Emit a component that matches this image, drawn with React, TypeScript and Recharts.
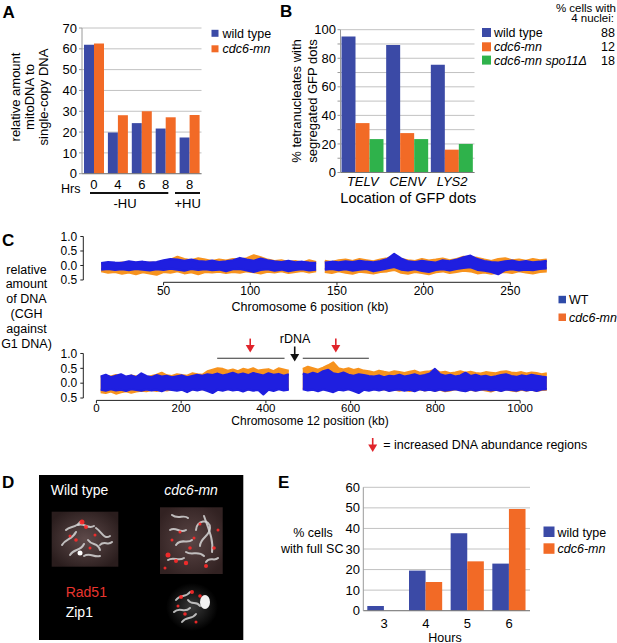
import React from 'react';
import {
  BarChart, Bar, XAxis, YAxis, CartesianGrid, ComposedChart, Area,
  ReferenceLine, ReferenceDot,
} from 'recharts';

const FONT = '"Liberation Sans", Arial, Helvetica, sans-serif';
const BAR_BLUE = '#3b4aa6';
const BAR_ORANGE = '#f26a26';
const BAR_GREEN = '#2fb24b';
const DOT_BLUE = '#1f1fe0';
const DOT_ORANGE = '#f7931e';
const RED = '#e0242b';

// ---------- Panel A ----------
const hrsLabels = ['0', '4', '6', '8', '8'];
const mitoWT = [61.9, 19.8, 24.3, 21.7, 17.4];
const mitoMN = [62.6, 28.1, 30.0, 27.1, 28.2];
const mitoTicks = [0, 10, 20, 30, 40, 50, 60, 70];

// ---------- Panel B ----------
const gfpLoci = ['TELV', 'CENV', 'LYS2'];
const gfpWT = [95.3, 89.3, 75.5];
const gfpMN = [34.6, 27.6, 16.0];
const gfpSpo = [23.4, 23.4, 20.0];
const gfpTicks = [0, 10, 20, 30, 40, 50, 60, 70, 80, 90, 100];
const bSeries = ['wild type', 'cdc6-mn', 'cdc6-mn spo11\u0394'];
const nucleiPct = ['88', '12', '18'];

// ---------- Panel C : chromosome 6 ----------
const chr6Pos = [14, 18, 22, 26, 30, 34, 38, 42, 46, 50, 54, 58, 62, 66, 70, 74, 78, 82, 86, 90, 94, 98, 102, 106, 110, 114, 118, 122, 126, 130, 134, 138,
  140.5,
  143, 147, 151, 155, 159, 163, 167, 171, 175, 179, 183, 187, 191, 195, 199, 203, 207, 211, 215, 219, 223, 227, 231, 235, 239, 243, 247, 251, 255, 259, 263, 267, 271];
const chr6WtLo = [-0.14, -0.12, -0.15, -0.13, -0.16, -0.12, -0.14, -0.17, -0.13, -0.15, -0.11, -0.14, -0.18, -0.12, -0.15, -0.13, -0.16, -0.14, -0.2, -0.13, -0.12, -0.17, -0.22, -0.15, -0.13, -0.18, -0.14, -0.2, -0.15, -0.13, -0.17, -0.14,
  null,
  -0.14, -0.12, -0.16, -0.13, -0.18, -0.14, -0.12, -0.2, -0.15, -0.1, -0.05, -0.14, -0.17, -0.13, -0.19, -0.22, -0.15, -0.13, -0.17, -0.12, -0.08, -0.06, -0.15, -0.18, -0.22, -0.3, -0.16, -0.13, -0.17, -0.14, -0.16, -0.12, -0.1];
const chr6WtHi = [0.08, 0.12, 0.1, 0.09, 0.14, 0.11, 0.13, 0.1, 0.12, 0.18, 0.22, 0.2, 0.16, 0.2, 0.15, 0.13, 0.17, 0.12, 0.14, 0.18, 0.26, 0.2, 0.16, 0.24, 0.18, 0.14, 0.12, 0.16, 0.11, 0.13, 0.1, 0.09,
  null,
  0.1, 0.13, 0.11, 0.14, 0.12, 0.16, 0.13, 0.11, 0.15, 0.22, 0.4, 0.24, 0.14, 0.12, 0.16, 0.13, 0.1, 0.18, 0.14, 0.2, 0.28, 0.34, 0.22, 0.15, 0.12, 0.1, 0.14, 0.17, 0.12, 0.15, 0.11, 0.13, 0.16];
const chr6MnLo = [-0.2, -0.25, -0.22, -0.28, -0.24, -0.3, -0.23, -0.27, -0.32, -0.22, -0.25, -0.2, -0.27, -0.23, -0.3, -0.22, -0.24, -0.21, -0.26, -0.22, -0.25, -0.2, -0.23, -0.27, -0.21, -0.24, -0.2, -0.26, -0.22, -0.19, -0.24, -0.2,
  null,
  -0.22, -0.26, -0.2, -0.25, -0.28, -0.21, -0.24, -0.27, -0.22, -0.2, -0.15, -0.25, -0.28, -0.22, -0.26, -0.3, -0.23, -0.2, -0.26, -0.22, -0.18, -0.2, -0.27, -0.24, -0.28, -0.25, -0.22, -0.26, -0.2, -0.24, -0.27, -0.22, -0.2];
const chr6MnHi = [0.05, 0.08, 0.06, 0.1, 0.07, 0.09, 0.06, 0.1, 0.08, 0.15, 0.2, 0.3, 0.22, 0.18, 0.25, 0.2, 0.15, 0.2, 0.17, 0.22, 0.2, 0.25, 0.35, 0.28, 0.2, 0.15, 0.18, 0.12, 0.15, 0.1, 0.18, 0.12,
  null,
  0.16, 0.12, 0.18, 0.2, 0.15, 0.22, 0.18, 0.14, 0.2, 0.25, 0.32, 0.22, 0.18, 0.15, 0.22, 0.17, 0.2, 0.24, 0.18, 0.22, 0.3, 0.28, 0.26, 0.2, 0.15, 0.22, 0.25, 0.18, 0.2, 0.16, 0.22, 0.18, 0.2];
const chr6Ticks = [50, 100, 150, 200, 250];

// ---------- Panel C : chromosome 12 ----------
const chr12Pos = [10, 22, 34, 46, 58, 70, 82, 94, 106, 118, 130, 142, 154, 166, 178, 190, 202, 214, 226, 238, 250, 262, 274, 286, 298, 310, 322, 334, 346, 358, 370, 382, 394, 406, 418, 430, 442, 454,
  470,
  487, 499, 511, 523, 535, 547, 559, 571, 583, 595, 607, 619, 631, 643, 655, 667, 679, 691, 703, 715, 727, 739, 751, 763, 775, 787, 799, 811, 823, 835, 847, 859, 871, 883, 895, 907, 919, 931, 943, 955, 967, 979, 991, 1003, 1015, 1027, 1039, 1051, 1063];
const chr12WtLo = [-0.22, -0.25, -0.2, -0.24, -0.22, -0.26, -0.2, -0.23, -0.25, -0.21, -0.24, -0.22, -0.27, -0.2, -0.23, -0.25, -0.22, -0.3, -0.21, -0.24, -0.2, -0.26, -0.33, -0.22, -0.25, -0.2, -0.24, -0.22, -0.28, -0.21, -0.25, -0.23, -0.38, -0.22, -0.26, -0.2, -0.24, -0.22,
  null,
  -0.2, -0.24, -0.22, -0.27, -0.21, -0.25, -0.3, -0.22, -0.24, -0.2, -0.26, -0.33, -0.22, -0.25, -0.21, -0.24, -0.2, -0.26, -0.23, -0.21, -0.25, -0.22, -0.27, -0.2, -0.24, -0.22, -0.26, -0.21, -0.25, -0.23, -0.2, -0.24, -0.27, -0.21, -0.25, -0.22, -0.2, -0.24, -0.22, -0.26, -0.21, -0.23, -0.25, -0.2, -0.24, -0.22, -0.26, -0.21, -0.2];
const chr12WtHi = [0.22, 0.28, 0.2, 0.25, 0.3, 0.22, 0.26, 0.2, 0.33, 0.24, 0.2, 0.27, 0.22, 0.25, 0.2, 0.23, 0.26, 0.2, 0.24, 0.28, 0.25, 0.3, 0.27, 0.32, 0.26, 0.3, 0.35, 0.28, 0.32, 0.27, 0.34, 0.3, 0.26, 0.33, 0.28, 0.31, 0.25, 0.3,
  null,
  0.32, 0.28, 0.35, 0.3, 0.4, 0.45, 0.33, 0.3, 0.36, 0.28, 0.25, 0.3, 0.27, 0.24, 0.22, 0.26, 0.2, 0.25, 0.23, 0.28, 0.22, 0.26, 0.3, 0.24, 0.27, 0.32, 0.48, 0.3, 0.25, 0.28, 0.22, 0.26, 0.35, 0.24, 0.28, 0.22, 0.25, 0.2, 0.23, 0.27, 0.3, 0.24, 0.21, 0.26, 0.23, 0.28, 0.25, 0.22, 0.2];
const chr12MnLo = [-0.3, -0.33, -0.28, -0.35, -0.3, -0.27, -0.32, -0.28, -0.25, -0.27, -0.23, -0.26, -0.22, -0.24, -0.2, -0.23, -0.21, -0.25, -0.2, -0.22, -0.19, -0.23, -0.2, -0.18, -0.22, -0.2, -0.17, -0.21, -0.19, -0.22, -0.18, -0.2, -0.24, -0.19, -0.21, -0.18, -0.2, -0.19,
  null,
  -0.18, -0.2, -0.17, -0.22, -0.19, -0.2, -0.24, -0.18, -0.21, -0.19, -0.22, -0.25, -0.2, -0.23, -0.19, -0.22, -0.2, -0.24, -0.21, -0.25, -0.22, -0.26, -0.23, -0.2, -0.24, -0.21, -0.25, -0.22, -0.27, -0.24, -0.2, -0.23, -0.26, -0.22, -0.25, -0.21, -0.24, -0.28, -0.22, -0.25, -0.2, -0.24, -0.27, -0.22, -0.25, -0.21, -0.26, -0.23, -0.22];
const chr12MnHi = [0.2, 0.25, 0.22, 0.27, 0.23, 0.2, 0.26, 0.22, 0.25, 0.2, 0.24, 0.28, 0.35, 0.26, 0.24, 0.3, 0.27, 0.25, 0.33, 0.3, 0.28, 0.4, 0.45, 0.5, 0.48, 0.42, 0.46, 0.4, 0.48, 0.44, 0.5, 0.42, 0.45, 0.47, 0.4, 0.5, 0.46, 0.42,
  null,
  0.48, 0.55, 0.5, 0.45, 0.52, 0.6, 0.7, 0.5, 0.46, 0.5, 0.44, 0.48, 0.42, 0.4, 0.36, 0.42, 0.38, 0.35, 0.4, 0.37, 0.34, 0.38, 0.42, 0.35, 0.38, 0.4, 0.45, 0.36, 0.38, 0.33, 0.36, 0.4, 0.35, 0.38, 0.34, 0.32, 0.37, 0.35, 0.33, 0.38, 0.4, 0.36, 0.34, 0.37, 0.32, 0.36, 0.34, 0.3, 0.33];
const chr12Ticks = [0, 200, 400, 600, 800, 1000];
const cghYTicks = [-0.5, 0, 0.5, 1];
const rdnaKb = 468;
const increasedKb = [363, 565];
const increasedSpans = [[285, 444], [487, 643]];

// ---------- Panel E ----------
const scHours = ['3', '4', '5', '6'];
const scWT = [2.3, 19.5, 37.6, 22.9];
const scMN = [0, 14.0, 24.0, 49.5];
const scTicks = [0, 10, 20, 30, 40, 50, 60];

const tickStyle = { fontSize: 13, fill: '#000' };

function ChartA() {
  const data = hrsLabels.map((h, i) => ({ idx: i, wt: mitoWT[i], mn: mitoMN[i] }));
  return (
    <BarChart width={210} height={215} data={data} margin={{ top: 28, right: 8.5, bottom: 21.3, left: 0 }} barGap={0}>
      <CartesianGrid vertical={false} stroke="#c2c2c2" />
      <XAxis dataKey="idx" type="category" tickFormatter={(v) => hrsLabels[v]} axisLine={{ stroke: '#7a7a7a' }}
        tickLine={false} tickSize={0} tickMargin={6.5} height={20} interval={0} tick={tickStyle} />
      <YAxis width={82} domain={[0, 70]} ticks={mitoTicks} interval={0} axisLine={{ stroke: '#9a9a9a' }}
        tickLine={{ stroke: '#9a9a9a' }} tickSize={3} tickMargin={2} tick={tickStyle} />
      <Bar dataKey="wt" fill={BAR_BLUE} barSize={10} isAnimationActive={false} />
      <Bar dataKey="mn" fill={BAR_ORANGE} barSize={10} isAnimationActive={false} />
    </BarChart>
  );
}

function ChartB() {
  const data = gfpLoci.map((l, i) => ({ locus: l, wt: gfpWT[i], mn: gfpMN[i], spo: gfpSpo[i] }));
  return (
    <BarChart width={230} height={215} data={data} margin={{ top: 29.7, right: 5.5, bottom: 22.5, left: 0 }} barGap={0}>
      <CartesianGrid vertical={false} stroke="#c2c2c2" />
      <XAxis dataKey="locus" axisLine={{ stroke: '#7a7a7a' }} tickLine={false} tickSize={0} tickMargin={4}
        height={20} interval={0} tick={{ fontSize: 13, fill: '#000', fontStyle: 'italic' }} />
      <YAxis width={90.5} domain={[0, 100]} ticks={gfpTicks} interval={0}
        tickFormatter={(v) => (v % 20 === 0 ? String(v) : '')} axisLine={{ stroke: '#9a9a9a' }}
        tickLine={{ stroke: '#9a9a9a' }} tickSize={3} tickMargin={1.5} tick={tickStyle} />
      <Bar dataKey="wt" fill={BAR_BLUE} barSize={14} isAnimationActive={false} />
      <Bar dataKey="mn" fill={BAR_ORANGE} barSize={14} isAnimationActive={false} />
      <Bar dataKey="spo" fill={BAR_GREEN} barSize={14} isAnimationActive={false} />
    </BarChart>
  );
}

function ChartE() {
  const data = scHours.map((h, i) => ({ h, wt: scWT[i], mn: scMN[i] }));
  return (
    <BarChart width={240} height={175} data={data} margin={{ top: 17.3, right: 10, bottom: 14.3, left: 0 }} barGap={0}>
      <CartesianGrid vertical={false} stroke="#c2c2c2" />
      <XAxis dataKey="h" axisLine={{ stroke: '#7a7a7a' }} tickLine={false} tickSize={0} tickMargin={7.7}
        height={20} interval={0} tick={tickStyle} />
      <YAxis width={63.3} domain={[0, 60]} ticks={scTicks} interval={0} axisLine={{ stroke: '#9a9a9a' }}
        tickLine={false} tickSize={0} tickMargin={3.3} tick={tickStyle} />
      <Bar dataKey="wt" fill={BAR_BLUE} barSize={16.6} isAnimationActive={false} />
      <Bar dataKey="mn" fill={BAR_ORANGE} barSize={16.6} isAnimationActive={false} />
    </BarChart>
  );
}

const cghTick = { fontSize: 12, fill: '#000' };
const cghTick12 = { fontSize: 11.5, fill: '#000' };
const fmtCgh = (v: number) => Math.abs(v).toFixed(1);

function rangeRows(pos: number[], wLo: (number | null)[], wHi: (number | null)[], mLo: (number | null)[], mHi: (number | null)[]) {
  return pos.map((kb, i) => ({
    kb,
    wt: wLo[i] == null ? null : [wLo[i], wHi[i]],
    mn: mLo[i] == null ? null : [mLo[i], mHi[i]],
  }));
}

function ChartChr6() {
  const data = rangeRows(chr6Pos, chr6WtLo, chr6WtHi, chr6MnLo, chr6MnHi);
  const xMin = 3.7;
  return (
    <ComposedChart width={580} height={90} data={data} margin={{ top: 9.76, right: 15.4, bottom: 12.7, left: 0 }}>
      <XAxis type="number" dataKey="kb" domain={[xMin, 281.3]} allowDataOverflow ticks={chr6Ticks} interval={0}
        axisLine={false} tickLine={{ stroke: '#222' }} tickSize={3} tickMargin={1.5} height={20} tick={cghTick} />
      <YAxis type="number" domain={[-0.58, 1.06]} allowDataOverflow ticks={cghYTicks} interval={0}
        tickFormatter={fmtCgh} axisLine={false} tickLine={{ stroke: '#222' }} tickSize={3} tickMargin={3}
        width={83.3} tick={cghTick} />
      <Area dataKey="mn" type="linear" stroke={DOT_ORANGE} strokeWidth={2.2} strokeLinejoin="round" fill={DOT_ORANGE}
        fillOpacity={1} isAnimationActive={false} dot={false} activeDot={false} connectNulls={false} />
      <Area dataKey="wt" type="linear" stroke={DOT_BLUE} strokeWidth={2.2} strokeLinejoin="round" fill={DOT_BLUE}
        fillOpacity={1} isAnimationActive={false} dot={false} activeDot={false} connectNulls={false} />
      <ReferenceLine segment={[{ x: xMin, y: -0.5 }, { x: xMin, y: 1 }]} stroke="#222" ifOverflow="visible" />
      <ReferenceLine segment={[{ x: chr6Ticks[0], y: -0.58 }, { x: chr6Ticks[chr6Ticks.length - 1], y: -0.58 }]}
        stroke="#222" ifOverflow="visible" />
    </ComposedChart>
  );
}

const arrowShape = (color: string, len: number) => (props: any) => {
  const { cx, cy } = props;
  return (
    <g>
      <line x1={cx} y1={cy - len} x2={cx} y2={cy - 6} stroke={color} strokeWidth={1.6} />
      <polygon points={`${cx - 4.5},${cy - 7.5} ${cx + 4.5},${cy - 7.5} ${cx},${cy}`} fill={color} />
    </g>
  );
};

function ChartChr12() {
  const data = rangeRows(chr12Pos, chr12WtLo, chr12WtHi, chr12MnLo, chr12MnHi);
  const xMin = -31;
  return (
    <ComposedChart width={580} height={100} data={data} margin={{ top: 21.7, right: 15.4, bottom: 9.6, left: 0 }}>
      <XAxis type="number" dataKey="kb" domain={[xMin, 1105]} allowDataOverflow ticks={chr12Ticks} interval={0}
        axisLine={false} tickLine={{ stroke: '#222' }} tickSize={3} tickMargin={0} height={20} tick={cghTick12} />
      <YAxis type="number" domain={[-0.58, 1.06]} allowDataOverflow ticks={cghYTicks} interval={0}
        tickFormatter={fmtCgh} axisLine={false} tickLine={{ stroke: '#222' }} tickSize={3} tickMargin={3}
        width={83.3} tick={cghTick} />
      <Area dataKey="mn" type="linear" stroke={DOT_ORANGE} strokeWidth={2.2} strokeLinejoin="round" fill={DOT_ORANGE}
        fillOpacity={1} isAnimationActive={false} dot={false} activeDot={false} connectNulls={false} />
      <Area dataKey="wt" type="linear" stroke={DOT_BLUE} strokeWidth={2.2} strokeLinejoin="round" fill={DOT_BLUE}
        fillOpacity={1} isAnimationActive={false} dot={false} activeDot={false} connectNulls={false} />
      <ReferenceLine segment={[{ x: xMin, y: -0.5 }, { x: xMin, y: 1 }]} stroke="#222" ifOverflow="visible" />
      <ReferenceLine segment={[{ x: chr12Ticks[0], y: -0.58 }, { x: chr12Ticks[chr12Ticks.length - 1], y: -0.58 }]}
        stroke="#222" ifOverflow="visible" />
      {increasedSpans.map((s, i) => (
        <ReferenceLine key={`span${i}`} segment={[{ x: s[0], y: 0.84 }, { x: s[1], y: 0.84 }]} stroke="#333"
          strokeWidth={1.2} ifOverflow="visible" />
      ))}
      {increasedKb.map((kb, i) => (
        <ReferenceDot key={`inc${i}`} x={kb} y={1.03} ifOverflow="visible" shape={arrowShape(RED, 14)} />
      ))}
      <ReferenceDot x={rdnaKb} y={0.73} ifOverflow="visible" shape={arrowShape('#111', 15)} />
    </ComposedChart>
  );
}

function RotLabel({ cx, cy, fs, text }: { cx: number; cy: number; fs: number; text: string }) {
  return (
    <text transform={`translate(${cx + fs * 0.35},${cy}) rotate(-90)`} textAnchor="middle" fontSize={fs} fill="#000">
      {text}
    </text>
  );
}

function Micrographs() {
  const squig = { stroke: '#d6d6d6', strokeWidth: 2, fill: 'none', strokeLinecap: 'round' as const, opacity: 0.85 };
  return (
    <g>
      <defs>
        <radialGradient id="gL" cx="50%" cy="50%" r="60%">
          <stop offset="0%" stopColor="#5e4a4a" />
          <stop offset="100%" stopColor="#2a1d1d" />
        </radialGradient>
        <radialGradient id="gR" cx="50%" cy="50%" r="60%">
          <stop offset="0%" stopColor="#5a4545" />
          <stop offset="100%" stopColor="#322222" />
        </radialGradient>
        <radialGradient id="gB" cx="50%" cy="50%" r="50%">
          <stop offset="0%" stopColor="#3a3a3a" />
          <stop offset="100%" stopColor="#000" />
        </radialGradient>
      </defs>
      <rect x={39} y={475} width={204.3} height={165} fill="#000" />
      <rect x={51.7} y={511.7} width={66.6} height={55} fill="url(#gL)" />
      <path d="M62,545 C66,538 72,540 76,532" {...squig} />
      <path d="M70,555 C74,548 80,552 84,544" {...squig} />
      <path d="M78,525 C84,522 88,530 94,526" {...squig} />
      <path d="M88,540 C92,546 98,542 100,550" {...squig} />
      <path d="M96,528 C102,532 104,540 110,536" {...squig} />
      <path d="M66,530 C70,526 76,528 80,522" {...squig} />
      <path d="M84,556 C90,552 94,558 100,556" {...squig} />
      <path d="M100,545 C104,540 108,546 112,542" {...squig} />
      <circle cx={80} cy={553} r={2.5} fill="#fff" />
      {[[82, 522, 2.5], [86, 527, 2], [76, 540, 1.8], [90, 548, 1.5], [95, 535, 1.5], [70, 536, 1.5]].map((d, i) => (
        <circle key={`l${i}`} cx={d[0]} cy={d[1]} r={d[2]} fill="#ff2a2a" opacity={0.9} />
      ))}
      <rect x={160} y={507.3} width={62.7} height={66.7} fill="url(#gR)" />
      <path d="M196,530 C196,520 210,518 210,528 C210,536 200,538 200,546" {...squig} />
      <path d="M204,516 C208,528 214,540 212,552" {...squig} />
      <path d="M170,530 C176,526 180,534 186,530" {...squig} />
      <path d="M176,545 C180,538 188,544 192,540" {...squig} />
      <path d="M168,560 C174,556 178,562 184,558" {...squig} />
      <path d="M186,552 C192,556 198,550 204,556" {...squig} />
      <path d="M206,562 C210,556 214,562 218,558" {...squig} />
      <path d="M172,515 C178,520 184,514 188,518" {...squig} />
      {[[168, 555, 2.5], [176, 561, 2], [186, 563, 2.2], [206, 566, 2], [214, 548, 1.8], [180, 532, 1.5], [194, 538, 1.5],
        [172, 540, 1.5], [200, 524, 1.5], [190, 548, 1.8], [165, 568, 1.5], [218, 530, 1.5]].map((d, i) => (
        <circle key={`r${i}`} cx={d[0]} cy={d[1]} r={d[2]} fill="#ff2a2a" opacity={0.9} />
      ))}
      <ellipse cx={192} cy={607} rx={26} ry={24} fill="url(#gB)" />
      <path d="M176,600 C180,594 186,598 190,592" {...squig} />
      <path d="M174,612 C180,606 184,614 190,608" {...squig} />
      <path d="M182,622 C186,616 192,620 196,614" {...squig} />
      <path d="M188,600 C192,606 196,600 200,606" {...squig} />
      <ellipse cx={205} cy={602} rx={5} ry={7} fill="#f2f2f2" />
      {[[181, 597, 2], [192, 592, 2], [200, 596, 1.8], [185, 614, 1.8], [196, 622, 1.5], [178, 606, 1.5]].map((d, i) => (
        <circle key={`b${i}`} cx={d[0]} cy={d[1]} r={d[2]} fill="#ff2a2a" opacity={0.9} />
      ))}
    </g>
  );
}

function Overlay() {
  const ital = { fontStyle: 'italic' as const };
  return (
    <svg width={617} height={643} style={{ position: 'absolute', left: 0, top: 0, pointerEvents: 'none' }}>
      {/* panel letters */}
      <g fontWeight="bold" fontSize={17} fill="#000">
        <text x={2.5} y={17.5}>A</text>
        <text x={280} y={16.5}>B</text>
        <text x={2} y={246}>C</text>
        <text x={2} y={488}>D</text>
        <text x={278} y={488}>E</text>
      </g>
      {/* Panel A */}
      <RotLabel cx={15.5} cy={97} fs={13} text="relative amount" />
      <RotLabel cx={29.5} cy={97} fs={13} text="mitoDNA to" />
      <RotLabel cx={43.3} cy={97} fs={13} text="single-copy DNA" />
      <text x={61} y={192.5} fontSize={12.5}>Hrs</text>
      <rect x={90} y={192} width={78.3} height={2} fill="#111" />
      <rect x={175} y={192} width={25} height={2} fill="#111" />
      <text x={125} y={207.5} fontSize={13} textAnchor="middle">-HU</text>
      <text x={187.7} y={207.5} fontSize={13} textAnchor="middle">+HU</text>
      <rect x={211.5} y={29.8} width={7} height={7} fill={BAR_BLUE} />
      <rect x={211.5} y={45.3} width={7} height={7} fill={BAR_ORANGE} />
      <text x={222.5} y={37.8} fontSize={12.5}>wild type</text>
      <text x={222.5} y={52.8} fontSize={12.5} {...ital}>cdc6-mn</text>
      {/* Panel B */}
      <RotLabel cx={296.7} cy={101} fs={13} text="% tetranucleates with" />
      <RotLabel cx={312.7} cy={101} fs={13} text="segregated GFP dots" />
      <text x={408.3} y={202.5} fontSize={14.5} textAnchor="middle">Location of GFP dots</text>
      <text x={616} y={11.5} fontSize={11.5} textAnchor="end">% cells with</text>
      <text x={614} y={22} fontSize={11.5} textAnchor="end">4 nuclei:</text>
      {[BAR_BLUE, BAR_ORANGE, BAR_GREEN].map((c, i) => (
        <rect key={`bl${i}`} x={482} y={[28, 42.3, 55.6][i]} width={9} height={9} fill={c} />
      ))}
      {bSeries.map((s, i) => (
        <text key={`bt${i}`} x={494} y={[36.8, 51.2, 64.5][i]} fontSize={12.5} {...(i > 0 ? ital : {})}>{s}</text>
      ))}
      {nucleiPct.map((s, i) => (
        <text key={`bn${i}`} x={615} y={[36.8, 51.2, 64.5][i]} fontSize={12.5} textAnchor="end">{s}</text>
      ))}
      {/* Panel C */}
      {['relative', 'amount', 'of DNA', '(CGH', 'against', 'G1 DNA)'].map((s, i) => (
        <text key={`cy${i}`} x={26.5} y={273.5 + i * 14.8} fontSize={12.5} textAnchor="middle">{s}</text>
      ))}
      <text x={310} y={311} fontSize={12.5} textAnchor="middle">Chromosome 6 position (kb)</text>
      <text x={310} y={425} fontSize={12} textAnchor="middle">Chromosome 12 position (kb)</text>
      <text x={295} y={342.7} fontSize={12.5} textAnchor="middle">rDNA</text>
      <rect x={558.5} y={295.8} width={7.5} height={7.5} fill="#2e4aa8" />
      <rect x={558.5} y={313.5} width={7.5} height={7.5} fill="#ef6c2c" />
      <text x={569} y={304.2} fontSize={12.5}>WT</text>
      <text x={569} y={321.8} fontSize={12.5} {...ital}>cdc6-mn</text>
      <line x1={372.7} y1={438} x2={372.7} y2={446} stroke={RED} strokeWidth={1.6} />
      <polygon points="368.2,444.5 377.2,444.5 372.7,452" fill={RED} />
      <text x={383.3} y={449} fontSize={12.5}>= increased DNA abundance regions</text>
      {/* Panel D */}
      <Micrographs />
      <text x={79.5} y={494.5} fontSize={14} fill="#fff" textAnchor="middle">Wild type</text>
      <text x={191} y={494.5} fontSize={14} fill="#fff" textAnchor="middle" {...ital}>cdc6-mn</text>
      <text x={65.7} y={597.3} fontSize={14} fill="#e8352e">Rad51</text>
      <text x={65.7} y={617} fontSize={14} fill="#fff">Zip1</text>
      {/* Panel E */}
      <text x={313} y={536.8} fontSize={12.5} textAnchor="middle">% cells</text>
      <text x={312.2} y={552.8} fontSize={12.5} textAnchor="middle">with full SC</text>
      <text x={445} y={641.5} fontSize={12.5} textAnchor="middle">Hours</text>
      <rect x={543.5} y={526.5} width={11} height={10.5} fill={BAR_BLUE} />
      <rect x={543.5} y={543.3} width={11} height={10.5} fill={BAR_ORANGE} />
      <text x={557.5} y={536.5} fontSize={12.5}>wild type</text>
      <text x={557.5} y={552.8} fontSize={12.5} {...ital}>cdc6-mn</text>
    </svg>
  );
}

export default function App() {
  return (
    <div style={{ position: 'absolute', left: 0, top: 0, width: 617, height: 643, background: '#fff', fontFamily: FONT, overflow: 'hidden' }}>
      <div style={{ position: 'absolute', left: 0, top: 0 }}><ChartA /></div>
      <div style={{ position: 'absolute', left: 250, top: 0 }}><ChartB /></div>
      <div style={{ position: 'absolute', left: 0, top: 225 }}><ChartChr6 /></div>
      <div style={{ position: 'absolute', left: 0, top: 330 }}><ChartChr12 /></div>
      <div style={{ position: 'absolute', left: 300, top: 470 }}><ChartE /></div>
      <Overlay />
    </div>
  );
}
